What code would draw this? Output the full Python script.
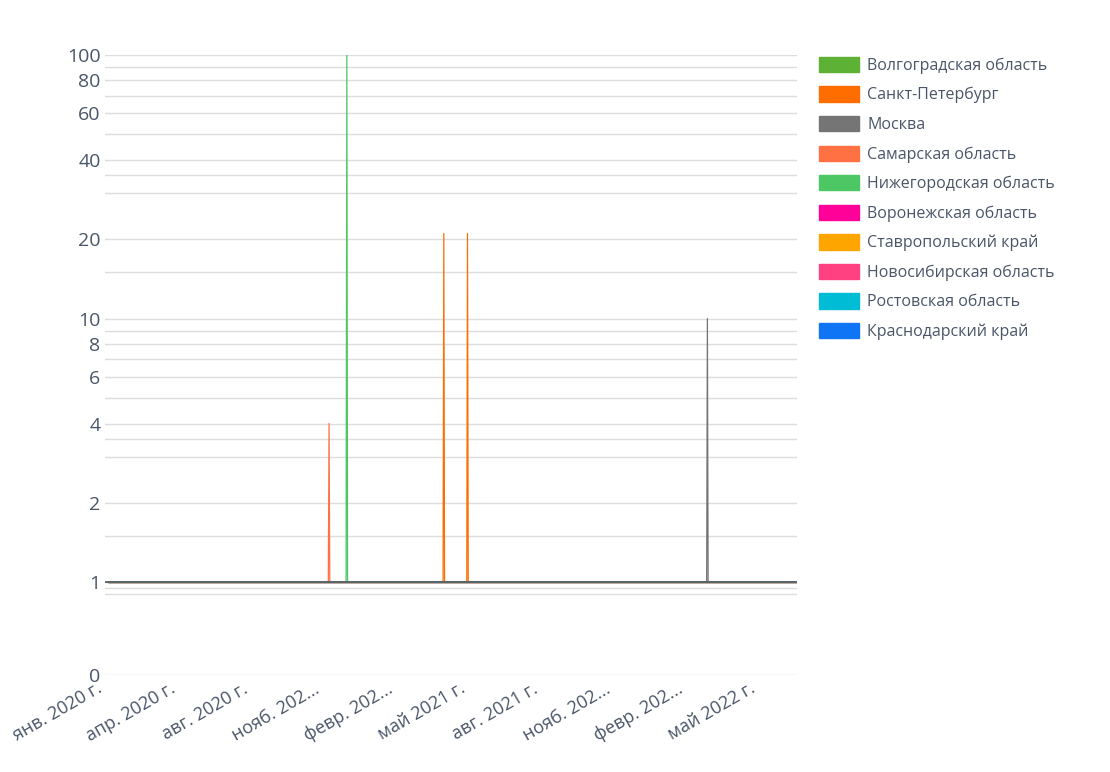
import numpy as np, pandas as pd, matplotlib
matplotlib.use("Agg")
import matplotlib.pyplot as plt, seaborn as sns
from matplotlib.patches import Patch

regions = ["Волгоградская область","Санкт-Петербург","Москва","Самарская область",
           "Нижегородская область","Воронежская область","Ставропольский край",
           "Новосибирская область","Ростовская область","Краснодарский край"]
colors = ["#5db135","#ff6d00","#757575","#ff7043","#4cc764","#ff0099","#ffa500",
          "#ff4081","#00bcd4","#0f75f5"]
# spikes: (region, date, value); otherwise value 1
spike_region = ["Самарская область","Нижегородская область","Санкт-Петербург","Санкт-Петербург","Москва"]
spike_date = ["2020-10-25","2020-11-18","2021-03-29","2021-04-30","2022-03-20"]
spike_value = [4, 100, 21, 21, 10]
tick_labels = ["янв. 2020 г.","апр. 2020 г.","авг. 2020 г.","нояб. 202...","февр. 202...",
               "май 2021 г.","авг. 2021 г.","нояб. 202...","февр. 202...","май 2022 г."]

start = pd.Timestamp("2020-01-01")
days = pd.date_range(start, "2022-07-19", freq="D")
rows = []
for r in regions:
    v = pd.Series(1.0, index=days)
    for sr, sd, sv in zip(spike_region, spike_date, spike_value):
        if sr == r: v[pd.Timestamp(sd)] = sv
    rows.append(pd.DataFrame({"d": (days - start).days, "y": np.log10(v.values), "r": r}))
df = pd.concat(rows)

sns.set_style("white")
plt.rcParams['font.family'] = ['Open Sans', 'DejaVu Sans']
fig = plt.figure(figsize=(11.1, 7.72), dpi=100)
ax = fig.add_axes([0.095, 0.126, 0.623, 0.803])
y0 = -0.35
minor = []
for dec in [1, 10]:
    for m in [1.5, 2, 3, 3.5, 4, 5, 6, 7, 8, 9]:
        minor.append(np.log10(dec*m))
for g in [np.log10(0.9), np.log10(0.95), y0] + minor + [0, 1, 2]:
    ax.axhline(g, color="#dddddd", lw=1, zorder=0)
order = regions[::-1]
sns.lineplot(data=df, x="d", y="y", hue="r", hue_order=order,
             palette=dict(zip(regions, colors)), lw=0.9, ax=ax, legend=False, estimator=None)
ax.axhline(0, color="#56606b", lw=1.3, zorder=5)
ax.set_ylim(y0, 2.0)
ax.set_xlim(0, 930)
ax.set_yticks([y0, 0, np.log10(2), np.log10(4), np.log10(6), np.log10(8), 1,
               np.log10(20), np.log10(40), np.log10(60), np.log10(80), 2])
ax.set_yticklabels(["0","1","2","4","6","8","10","20","40","60","80","100"], fontsize=14, color="#4a5568")
ax.set_xticks([-4 + 98*k for k in range(10)])
ax.set_xticklabels(tick_labels, rotation=30, ha="right", fontsize=13, color="#4a5568")
ax.tick_params(length=0)
ax.set_xlabel(""); ax.set_ylabel("")
for s in ax.spines.values(): s.set_visible(False)
handles = [Patch(color=c, label=r) for r, c in zip(regions, colors)]
fig.legend(handles=handles, loc="upper left", bbox_to_anchor=(0.725, 0.945), frameon=False,
           fontsize=11.5, handlelength=2.5, handleheight=1.1, handletextpad=0.5,
           labelspacing=0.78, labelcolor="#4a5568")
fig.savefig("out.png", dpi=100)
